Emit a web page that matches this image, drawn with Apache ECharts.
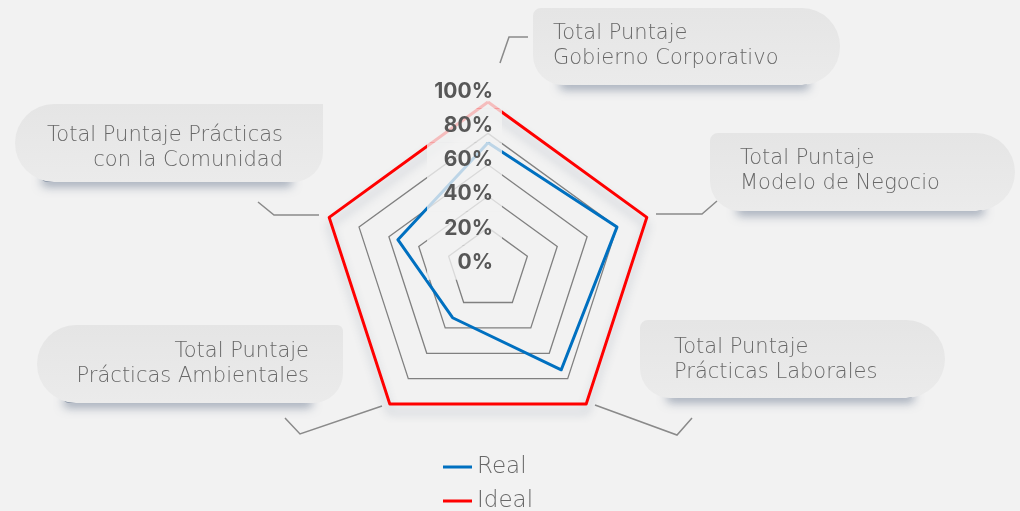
<!DOCTYPE html>
<html>
<head>
<meta charset="utf-8">
<script src="https://cdn.jsdelivr.net/npm/echarts@6/dist/echarts.min.js"></script>
<style>
  html, body { margin: 0; background: #f2f2f2; }
  #chart { width: 1020px; height: 511px; }
</style>
</head>
<body>
<div id="chart"></div>
<script>
// echarts reparte los ejes en sentido antihorario desde arriba
var indicadores = [
  "Gobierno Corporativo",
  "Prácticas con la Comunidad",
  "Prácticas Ambientales",
  "Prácticas Laborales",
  "Modelo de Negocio"
];
var real = [74, 54, 32, 73, 80];
var ideal = [100, 100, 100, 100, 100];
var escala = [0, 20, 40, 60, 80, 100];

var gris = "#808080";
var fuente = "'DejaVu Sans', 'Open Sans', sans-serif";

function caja(x, y, w, h, r, texto, align, tx, ty) {
  return {
    type: "group",
    x: x,
    y: y,
    children: [
      {
        type: "rect",
        z: 1,
        shape: { x: 26, y: h - 12, width: w - 56, height: 12, r: 6 },
        style: {
          fill: "rgba(95,110,135,0.6)",
          shadowBlur: 10,
          shadowOffsetY: 5,
          shadowColor: "rgba(95,110,135,0.85)"
        }
      },
      {
        type: "rect",
        z: 2,
        shape: { x: 0, y: 0, width: w, height: h, r: r },
        style: {
          fill: {
            type: "linear", x: 0, y: 0, x2: 0, y2: 1,
            colorStops: [
              { offset: 0, color: "#e5e5e5" },
              { offset: 1, color: "#ebebeb" }
            ]
          }
        }
      },
      {
        type: "text",
        z: 3,
        x: tx,
        y: ty,
        style: {
          text: texto,
          fill: "#686868",
          fontFamily: fuente,
          fontWeight: 200,
          fontSize: 21,
          lineHeight: 25,
          align: align,
          verticalAlign: "middle"
        }
      }
    ]
  };
}

function guia(puntos) {
  return {
    type: "polyline",
    shape: { points: puntos },
    style: { stroke: "#8a8a8a", lineWidth: 1.5, fill: null }
  };
}

var chart = echarts.init(document.getElementById("chart"));

chart.setOption({
  backgroundColor: "#f2f2f2",
  animation: false,
  legend: {
    orient: "vertical",
    left: 443,
    top: 455,
    height: 80,
    padding: 0,
    icon: "rect",
    itemWidth: 29,
    itemHeight: 3,
    itemGap: 10,
    data: ["Real", "Ideal"],
    textStyle: { fontFamily: fuente, fontWeight: 200, fontSize: 23, color: "#686868", lineHeight: 24 }
  },
  radar: [
    {
      center: [488, 269],
      radius: [10, 167],
      startAngle: 90,
      splitNumber: escala.length - 1,
      indicator: indicadores.map(function (n) {
        return { name: n, min: escala[0], max: escala[escala.length - 1] };
      }),
      axisName: { show: false },
      axisLine: { show: false },
      axisTick: { show: false },
      axisLabel: { show: false },
      splitArea: { show: false },
      splitLine: {
        lineStyle: { color: ["rgba(0,0,0,0)", gris, gris, gris, gris, "rgba(0,0,0,0)"], width: 1.3 }
      }
    },
    {
      // solo para las etiquetas de porcentaje
      center: [488, 271],
      radius: [8.3, 179.7],
      startAngle: 90,
      z: 5,
      splitNumber: escala.length - 1,
      indicator: indicadores.map(function (n, i) {
        return { name: "", min: escala[0], max: escala[escala.length - 1], axisLabel: { show: i === 0 } };
      }),
      axisName: { show: false },
      axisLine: { show: false },
      axisTick: { show: false },
      splitArea: { show: false },
      splitLine: { show: false },
      axisLabel: {
        show: true,
        margin: -14,
        formatter: function (v) { return v + "%"; },
        fontFamily: "Inter, 'Open Sans', sans-serif",
        fontWeight: "bold",
        fontSize: 21,
        color: "#575757",
        backgroundColor: "rgba(242,242,242,0.78)",
        width: 66,
        lineHeight: 34.28,
        padding: [0, 9, 0, 0],
        align: "right"
      }
    }
  ],
  series: [
    {
      type: "radar",
      radarIndex: 0,
      symbol: "none",
      data: [
        {
          name: "Ideal",
          value: ideal,
          itemStyle: { color: "#ff0000" },
          lineStyle: {
            color: "#ff0000", width: 3,
            shadowColor: "rgba(70,90,120,0.3)", shadowBlur: 10, shadowOffsetY: 8
          }
        },
        {
          name: "Real",
          value: real,
          itemStyle: { color: "#0070c0" },
          lineStyle: { color: "#0070c0", width: 3 }
        }
      ]
    }
  ],
  graphic: [
    caja(533, 8, 307, 77, [8, 38, 38, 30], "Total Puntaje\nGobierno Corporativo", "left", 20, 38.5),
    caja(15, 104, 308, 78, [39, 0, 30, 39], "Total Puntaje Prácticas\ncon la Comunidad", "right", 268, 44),
    caja(710, 133, 305, 78, [8, 39, 39, 30], "Total Puntaje\nModelo de Negocio", "left", 30, 38.5),
    caja(640, 320, 305, 78, [8, 39, 39, 30], "Total Puntaje\nPrácticas Laborales", "left", 34, 40),
    caja(37, 325, 306, 78, [39, 6, 30, 39], "Total Puntaje\nPrácticas Ambientales", "right", 272, 39.5),
    guia([[500, 63], [509, 37], [528, 37]]),
    guia([[258, 202], [274, 215], [319, 215]]),
    guia([[656, 214], [702, 214], [717, 201]]),
    guia([[382, 406], [300, 434], [285, 418]]),
    guia([[595, 405], [677, 435], [692, 418]])
  ]
});
</script>
</body>
</html>
